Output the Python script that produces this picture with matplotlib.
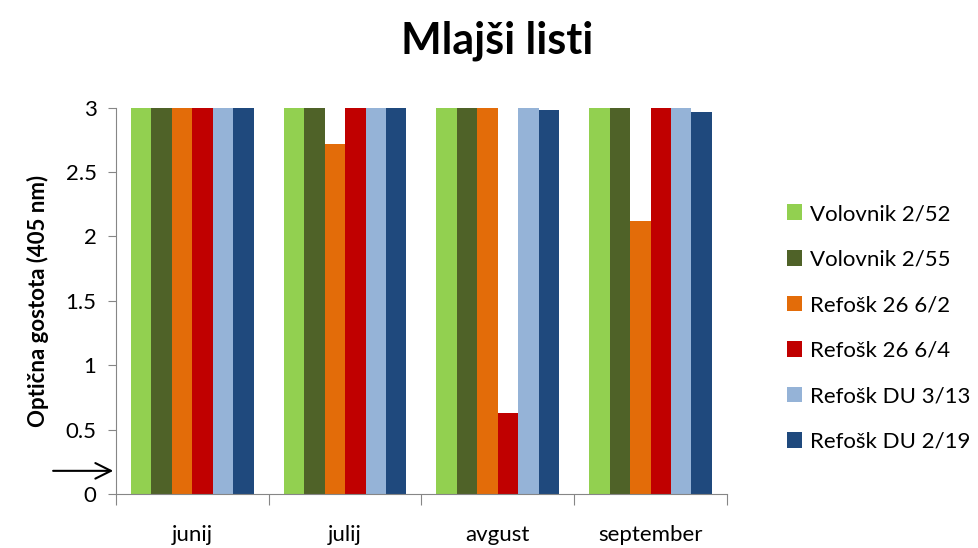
import numpy as np
import matplotlib.pyplot as plt
from matplotlib.ticker import FixedLocator

plt.rcParams['font.family'] = ['Lato', 'DejaVu Sans']

months = ["junij", "julij", "avgust", "september"]
series = ["Volovnik 2/52", "Volovnik 2/55", "Refošk 26 6/2",
          "Refošk 26 6/4", "Refošk DU 3/13", "Refošk DU 2/19"]
volovnik_252 = [3.0, 3.0, 3.0, 3.0]
volovnik_255 = [3.0, 3.0, 3.0, 3.0]
refosk_26_62 = [3.0, 2.72, 3.0, 2.12]
refosk_26_64 = [3.0, 3.0, 0.63, 3.0]
refosk_du_313 = [3.0, 3.0, 3.0, 3.0]
refosk_du_219 = [3.0, 3.0, 2.98, 2.97]
values = [volovnik_252, volovnik_255, refosk_26_62,
          refosk_26_64, refosk_du_313, refosk_du_219]
colors = ["#92D050", "#4F6228", "#E36C09", "#C00000", "#95B3D7", "#1F497D"]


def main():
    fig = plt.figure(figsize=(9.79, 5.48), dpi=100)
    ax = fig.add_axes([0.1185, 0.0985, 0.624, 0.705])

    x = np.arange(len(months))
    w = 0.134
    for i, (name, vals, c) in enumerate(zip(series, values, colors)):
        ax.bar(x + (i - 2.5) * w, vals, w, color=c, label=name)

    ax.set_xlim(-0.5, len(months) - 0.5)
    ax.set_ylim(0, 3)
    ax.set_yticks([0, 0.5, 1, 1.5, 2, 2.5, 3])
    ax.set_yticklabels(["0", "0.5", "1", "1.5", "2", "2.5", "3"])
    ax.xaxis.set_major_locator(FixedLocator(np.arange(len(months) + 1) - 0.5))
    ax.xaxis.set_minor_locator(FixedLocator(x))
    ax.set_xticklabels([], minor=False)
    ax.set_xticklabels(months, minor=True)
    ax.tick_params(axis="x", which="major", length=8, color="#868686")
    ax.tick_params(axis="x", which="minor", length=0, pad=22, labelsize=16)
    ax.tick_params(axis="y", length=6, color="#868686", labelsize=16, pad=8)

    for s in ["top", "right"]:
        ax.spines[s].set_visible(False)
    for s in ["left", "bottom"]:
        ax.spines[s].set_color("#868686")

    ax.set_ylabel("Optična gostota (405 nm)", fontsize=16, fontweight="bold",
                  labelpad=12)
    fig.text(0.508, 0.925, "Mlajši listi", ha="center", va="center",
             fontsize=31, fontweight="bold")

    ax.annotate("", xy=(-0.5, 0.18), xytext=(-0.93, 0.18),
                xycoords="data", textcoords="data",
                arrowprops=dict(arrowstyle="->", color="black", lw=1.5,
                                mutation_scale=28),
                annotation_clip=False)

    ax.legend(loc="center left", bbox_to_anchor=(1.065, 0.43), frameon=False,
              fontsize=16, handlelength=0.7, handleheight=0.7,
              handletextpad=0.35, labelspacing=1.15)

    fig.savefig("out.png", dpi=100)


if __name__ == "__main__":
    main()
